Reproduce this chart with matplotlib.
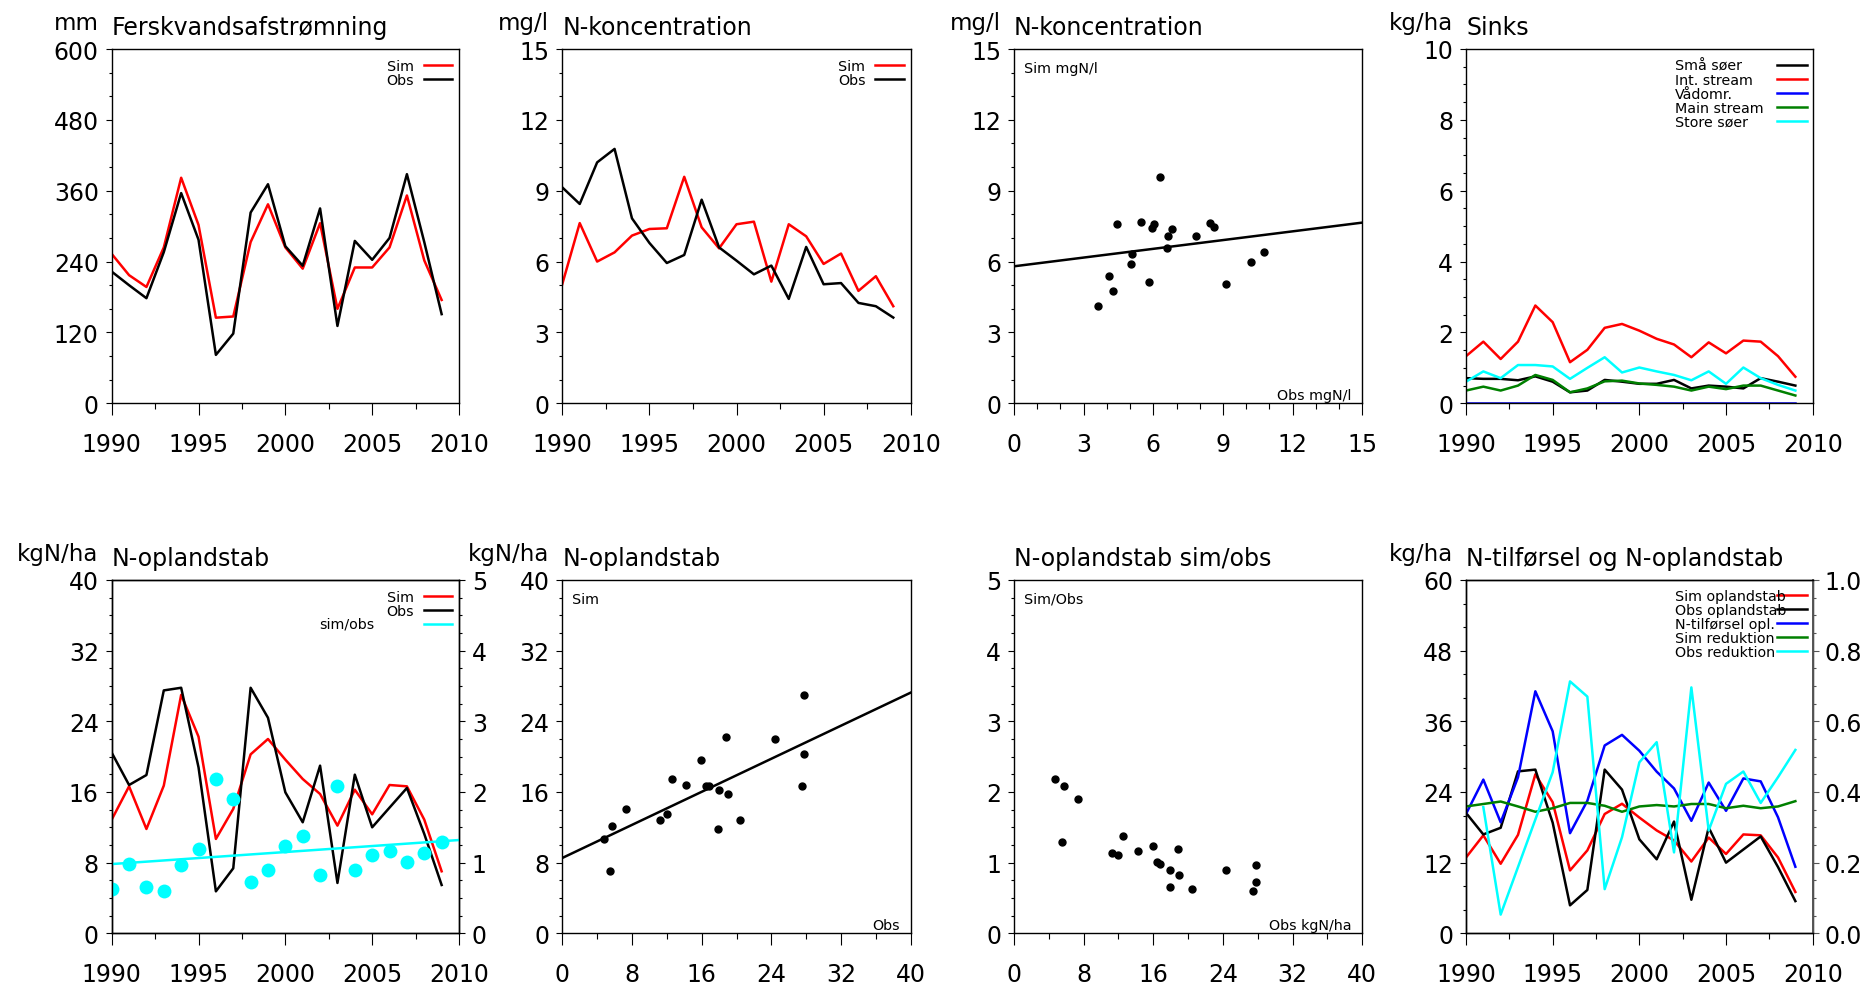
import matplotlib
matplotlib.use("Agg")
import matplotlib.pyplot as plt
from matplotlib.ticker import MultipleLocator, FormatStrFormatter
from matplotlib.lines import Line2D

plt.rcParams['font.family'] = ['DejaVu Sans']
plt.rcParams['xtick.direction'] = 'out'
plt.rcParams['ytick.direction'] = 'out'
plt.rcParams['xtick.major.size'] = 8.6
plt.rcParams['xtick.minor.size'] = 4.3
plt.rcParams['ytick.major.size'] = 4.3
plt.rcParams['ytick.minor.size'] = 2.2
plt.rcParams['xtick.major.width'] = 0.8
plt.rcParams['xtick.minor.width'] = 0.8
plt.rcParams['ytick.major.width'] = 0.8
plt.rcParams['ytick.minor.width'] = 0.8
plt.rcParams['xtick.major.pad'] = 12
plt.rcParams['ytick.major.pad'] = 5
plt.rcParams['xtick.labelsize'] = 17
plt.rcParams['ytick.labelsize'] = 17
plt.rcParams['axes.linewidth'] = 1.0

# ---------------- data ----------------
years = list(range(1990, 2010))

runoff_sim = [253, 217, 197, 264, 382, 302, 145, 147, 273, 337, 264, 228, 305, 160,
              230, 230, 264, 352, 242, 175]
runoff_obs = [223, 200, 178, 256, 356, 277, 82, 118, 323, 371, 266, 233, 330, 131,
              275, 243, 280, 388, 273, 151]

conc_sim = [5.05, 7.63, 6.00, 6.39, 7.10, 7.38, 7.41, 9.59, 7.45, 6.56, 7.58, 7.69,
            5.15, 7.58, 7.07, 5.90, 6.34, 4.76, 5.38, 4.11]
conc_obs = [9.14, 8.44, 10.20, 10.77, 7.83, 6.79, 5.94, 6.28, 8.62, 6.60, 6.04, 5.46,
            5.83, 4.42, 6.62, 5.04, 5.09, 4.25, 4.11, 3.63]
conc_trend_x = [0, 15]
conc_trend_y = [5.80, 7.65]

sink_small_lakes = [0.71, 0.69, 0.69, 0.65, 0.76, 0.61, 0.31, 0.36, 0.66, 0.61, 0.55,
                    0.55, 0.66, 0.42, 0.50, 0.47, 0.42, 0.71, 0.61, 0.50]
sink_int_stream = [1.33, 1.74, 1.25, 1.74, 2.76, 2.29, 1.16, 1.51, 2.13, 2.24, 2.05,
                   1.82, 1.66, 1.30, 1.72, 1.41, 1.77, 1.74, 1.33, 0.75]
sink_wetlands = [0.0, 0.0, 0.0, 0.0, 0.0, 0.0, 0.0, 0.0, 0.0, 0.0, 0.0, 0.0, 0.0, 0.0,
                 0.0, 0.0, 0.0, 0.0, 0.0, 0.0]
sink_main_stream = [0.36, 0.47, 0.36, 0.50, 0.80, 0.66, 0.31, 0.42, 0.62, 0.64, 0.56,
                    0.52, 0.47, 0.36, 0.47, 0.40, 0.50, 0.50, 0.36, 0.22]
sink_large_lakes = [0.61, 0.90, 0.71, 1.08, 1.08, 1.04, 0.69, 1.00, 1.30, 0.87, 1.01,
                    0.90, 0.80, 0.65, 0.90, 0.55, 1.01, 0.71, 0.52, 0.36]
sink_labels = ['Små søer', 'Int. stream', 'Vådomr.', 'Main stream', 'Store søer']

loss_sim = [12.87, 16.64, 11.81, 16.72, 27.0, 22.26, 10.68, 14.08, 20.26, 22.0, 19.66,
            17.47, 15.77, 12.19, 16.26, 13.47, 16.79, 16.64, 12.87, 7.02]
loss_obs = [20.45, 16.79, 17.92, 27.5, 27.8, 18.79, 4.75, 7.36, 27.8, 24.4, 15.96,
            12.57, 18.98, 5.70, 17.96, 12.0, 14.23, 16.45, 11.25, 5.47]
loss_ratio = [0.62, 0.98, 0.65, 0.60, 0.96, 1.19, 2.18, 1.90, 0.73, 0.89, 1.23, 1.38,
              0.83, 2.08, 0.89, 1.11, 1.17, 1.01, 1.13, 1.29]
ratio_trend_x = [1990, 2010]
ratio_trend_y = [0.98, 1.32]
loss_trend_x = [0, 40]
loss_trend_y = [8.53, 27.25]

n_input = [20.26, 26.1, 18.85, 26.5, 41.1, 34.3, 17.0, 22.5, 31.9, 33.7, 31.0, 27.45,
           24.6, 19.1, 25.6, 20.8, 26.3, 25.8, 19.7, 11.3]
red_sim = [0.359, 0.366, 0.373, 0.359, 0.344, 0.354, 0.369, 0.369, 0.361, 0.344, 0.359,
           0.363, 0.359, 0.366, 0.366, 0.354, 0.361, 0.354, 0.359, 0.374]
red_obs = [None, 0.357, 0.053, None, 0.322, 0.456, 0.713, 0.670, 0.125, 0.272, 0.484,
           0.541, 0.229, 0.696, 0.291, 0.423, 0.458, 0.369, 0.442, 0.519]
p8_labels = ['Sim oplandstab', 'Obs oplandstab', 'N-tilførsel opl.', 'Sim reduktion',
             'Obs reduktion']

# ---------------- layout ----------------
W, H = 1869, 987
fig = plt.figure(figsize=(W / 100, H / 100), dpi=100)

lefts = [111.7, 562.3, 1014.0, 1466.0]
widths = [347.3, 348.4, 348.3, 346.7]
row_top = [50.0, 581.0]
row_bot = [404.3, 934.3]


def make_ax(r, c):
    l = lefts[c] / W
    w = widths[c] / W
    b = 1 - row_bot[r] / H
    h = (row_bot[r] - row_top[r]) / H
    ax = fig.add_axes([l, b, w, h])
    ax.tick_params(which='both', top=False, right=False)
    return ax


LW = 1.8
FS_T = 17
FS_U = 16.5
FS_S = 10.3


def head(ax, unit, title):
    bw = ax.get_position().width * W
    bh = ax.get_position().height * H
    ax.text(0, 1 + 15 / bh, title, transform=ax.transAxes, ha='left', va='baseline',
            fontsize=FS_T)
    if unit:
        ax.text(-13 / bw, 1 + 20 / bh, unit, transform=ax.transAxes, ha='right',
                va='baseline', fontsize=FS_U)


def year_axis(ax):
    ax.set_xlim(1990, 2010)
    ax.xaxis.set_major_locator(MultipleLocator(5))
    ax.xaxis.set_minor_locator(MultipleLocator(2.5))


def yaxis(ax, top, major, minor, fmt='%d'):
    ax.set_ylim(0, top)
    ax.yaxis.set_major_locator(MultipleLocator(major))
    ax.yaxis.set_minor_locator(MultipleLocator(minor))
    ax.yaxis.set_major_formatter(FormatStrFormatter(fmt))


def right_legend(ax, handles, labels, x=0.981, y=0.973):
    ax.legend(handles, labels, loc='upper right', bbox_to_anchor=(x, y),
              bbox_transform=ax.transAxes, markerfirst=False, frameon=False,
              fontsize=FS_S, handlelength=2.0, handletextpad=0.7,
              labelspacing=0.0, borderpad=0, borderaxespad=0)


def split_legend(ax, handles, labels, xtext, xline, y):
    # keys column (no text) at the right, labels column (left-aligned) to the left
    legb = ax.legend(handles, [''] * len(labels), loc='upper right',
                     bbox_to_anchor=(xline, y), bbox_transform=ax.transAxes,
                     markerfirst=False, frameon=False, fontsize=FS_S,
                     handlelength=2.05, handletextpad=0.0, labelspacing=0.0,
                     borderpad=0, borderaxespad=0)
    ax.add_artist(legb)
    blanks = [Line2D([], [], lw=0) for _ in labels]
    ax.legend(blanks, labels, loc='upper left', bbox_to_anchor=(xtext, y),
              bbox_transform=ax.transAxes, frameon=False, fontsize=FS_S,
              handlelength=0, handletextpad=0, labelspacing=0.0, borderpad=0,
              borderaxespad=0)


def corner_labels(ax, tl, br):
    bw = ax.get_position().width * W
    bh = ax.get_position().height * H
    ax.text(10 / bw, 1 - 19 / bh, tl, transform=ax.transAxes, ha='left',
            va='center', fontsize=FS_S)
    ax.text(1 - 11 / bw, 8.5 / bh, br, transform=ax.transAxes, ha='right',
            va='center', fontsize=FS_S)


# Panel 1
ax1 = make_ax(0, 0)
l1s, = ax1.plot(years, runoff_sim, color='red', lw=LW)
l1o, = ax1.plot(years, runoff_obs, color='black', lw=LW)
year_axis(ax1)
yaxis(ax1, 600, 120, 40)
head(ax1, 'mm', 'Ferskvandsafstrømning')
right_legend(ax1, [l1s, l1o], ['Sim', 'Obs'])

# Panel 2
ax2 = make_ax(0, 1)
l2s, = ax2.plot(years, conc_sim, color='red', lw=LW)
l2o, = ax2.plot(years, conc_obs, color='black', lw=LW)
year_axis(ax2)
yaxis(ax2, 15, 3, 1)
head(ax2, 'mg/l', 'N-koncentration')
right_legend(ax2, [l2s, l2o], ['Sim', 'Obs'])

# Panel 3
ax3 = make_ax(0, 2)
ax3.plot(conc_obs, conc_sim, 'o', color='black', ms=5)
ax3.plot(conc_trend_x, conc_trend_y, color='black', lw=LW)
ax3.set_xlim(0, 15)
ax3.xaxis.set_major_locator(MultipleLocator(3))
ax3.xaxis.set_minor_locator(MultipleLocator(1))
yaxis(ax3, 15, 3, 1)
head(ax3, 'mg/l', 'N-koncentration')
corner_labels(ax3, 'Sim mgN/l', 'Obs mgN/l')

# Panel 4
ax4 = make_ax(0, 3)
sink_series = [sink_small_lakes, sink_int_stream, sink_wetlands, sink_main_stream,
               sink_large_lakes]
sink_colors = ['black', 'red', 'blue', 'green', 'cyan']
h4 = []
for s, c in zip(sink_series, sink_colors):
    ln, = ax4.plot(years, s, color=c, lw=LW)
    h4.append(ln)
year_axis(ax4)
yaxis(ax4, 10, 2, 0.5)
head(ax4, 'kg/ha', 'Sinks')
split_legend(ax4, h4, sink_labels, 0.603, 0.983, 0.972)

# Panel 5
ax5 = make_ax(1, 0)
l5s, = ax5.plot(years, loss_sim, color='red', lw=LW)
l5o, = ax5.plot(years, loss_obs, color='black', lw=LW)
year_axis(ax5)
yaxis(ax5, 40, 8, 2)
ax5r = ax5.twinx()
ax5r.plot(years, loss_ratio, 'o', color='cyan', ms=10, mec='none')
l5t, = ax5r.plot(ratio_trend_x, ratio_trend_y, color='cyan', lw=LW)
yaxis(ax5r, 5, 1, 0.25)
ax5r.tick_params(which='both', left=False, right=True, labelright=True, top=False)
head(ax5, 'kgN/ha', 'N-oplandstab')
right_legend(ax5r, [l5s, l5o, l5t], ['Sim', 'Obs', ''])
bh5 = ax5.get_position().height * H
ax5r.text(0.597, 1 - 43.5 / bh5, 'sim/obs', transform=ax5r.transAxes, ha='left',
          va='center', fontsize=FS_S)

# Panel 6
ax6 = make_ax(1, 1)
ax6.plot(loss_obs, loss_sim, 'o', color='black', ms=5)
ax6.plot(loss_trend_x, loss_trend_y, color='black', lw=LW)
ax6.set_xlim(0, 40)
ax6.xaxis.set_major_locator(MultipleLocator(8))
ax6.xaxis.set_minor_locator(MultipleLocator(4))
yaxis(ax6, 40, 8, 2)
head(ax6, 'kgN/ha', 'N-oplandstab')
corner_labels(ax6, 'Sim', 'Obs')

# Panel 7
ax7 = make_ax(1, 2)
ax7.plot(loss_obs, loss_ratio, 'o', color='black', ms=5)
ax7.set_xlim(0, 40)
ax7.xaxis.set_major_locator(MultipleLocator(8))
ax7.xaxis.set_minor_locator(MultipleLocator(4))
yaxis(ax7, 5, 1, 0.25)
head(ax7, '', 'N-oplandstab sim/obs')
corner_labels(ax7, 'Sim/Obs', 'Obs kgN/ha')

# Panel 8
ax8 = make_ax(1, 3)
l8s, = ax8.plot(years, loss_sim, color='red', lw=LW)
l8o, = ax8.plot(years, loss_obs, color='black', lw=LW)
l8i, = ax8.plot(years, n_input, color='blue', lw=LW)
year_axis(ax8)
yaxis(ax8, 60, 12, 4)
ax8r = ax8.twinx()
l8rs, = ax8r.plot(years, red_sim, color='green', lw=LW)
ro_years = [y for y, v in zip(years, red_obs) if v is not None]
ro_vals = [v for v in red_obs if v is not None]
l8ro, = ax8r.plot(ro_years, ro_vals, color='cyan', lw=LW)
yaxis(ax8r, 1.0, 0.2, 0.05, '%.1f')
ax8r.tick_params(which='both', left=False, right=True, labelright=True, top=False,
                 color='#555555')
ax8r.tick_params(axis='y', pad=4.5)
ax8r.spines['right'].set_color('#555555')
ax8r.spines['right'].set_linewidth(1.4)
head(ax8, 'kg/ha', 'N-tilførsel og N-oplandstab')
split_legend(ax8r, [l8s, l8o, l8i, l8rs, l8ro], p8_labels, 0.603, 0.983, 0.975)

fig.savefig('out.png', dpi=100)
